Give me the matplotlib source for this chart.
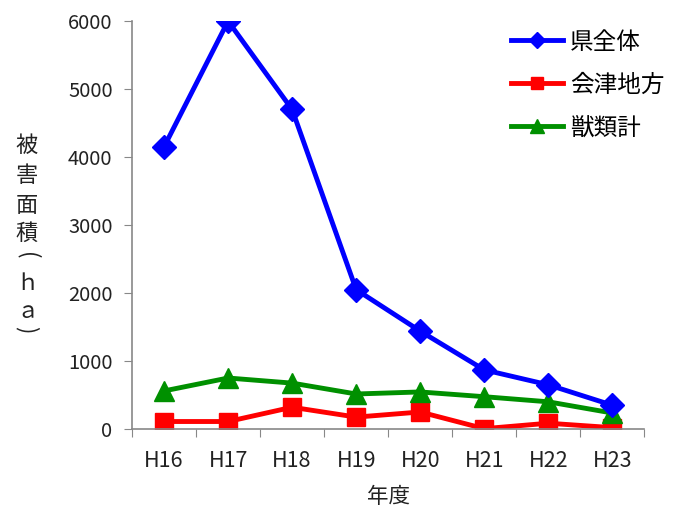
import numpy as np
import matplotlib.pyplot as plt
from matplotlib.ticker import FixedLocator, NullFormatter

plt.rcParams['font.family'] = ['Noto Sans CJK JP', 'DejaVu Sans']

years = ['H16', 'H17', 'H18', 'H19', 'H20', 'H21', 'H22', 'H23']
prefecture = [4150, 6000, 4700, 2050, 1440, 870, 650, 350]
aizu = [110, 110, 320, 175, 250, 5, 85, 20]
all_species = [560, 750, 675, 515, 545, 475, 400, 235]

W, H = 684, 515
fig = plt.figure(figsize=(W / 100, H / 100), dpi=100)
ax = fig.add_axes([0.193, 0.167, 0.749, 0.792])

x = np.arange(len(years))
ax.plot(x, prefecture, '-D', color='#0000ff', lw=3.5, ms=12, label='県全体', zorder=3)
ax.plot(x, aizu, '-s', color='#ff0000', lw=3.5, ms=13, label='会津地方', zorder=2)
ax.plot(x, all_species, '-^', color='#009000', lw=3.5, ms=15, label='獣類計', zorder=2)

ax.set_xlim(-0.5, len(years) - 0.5)
ax.set_ylim(0, 6000)
ax.set_yticks(range(0, 6001, 1000))

# category labels in the middle, tick marks between categories
ax.xaxis.set_major_locator(FixedLocator(np.arange(-0.5, len(years), 1.0)))
ax.xaxis.set_major_formatter(NullFormatter())
ax.xaxis.set_minor_locator(FixedLocator(x))
ax.set_xticklabels(years, minor=True)
ax.tick_params(axis='x', which='minor', length=0, labelsize=15.5, pad=15, labelcolor='#222222')
ax.tick_params(axis='x', which='major', length=6, color='#888888', direction='out')
ax.tick_params(axis='y', length=6, color='#888888', labelsize=14.5, pad=8, labelcolor='#222222')

for s in ['top', 'right']:
    ax.spines[s].set_visible(False)
for s in ['left', 'bottom']:
    ax.spines[s].set_color('#888888')
    ax.spines[s].set_linewidth(1.2)

ax.set_xlabel('年度', fontsize=15.5, color='#222222', labelpad=10)

# vertical y label: one character per row, brackets turned sideways
ylab_chars = ['被', '害', '面', '積', '(', 'ｈ', 'ａ', ')']
ylab_rows = [145, 175, 205, 233, 256, 283, 311, 330]
for ch, row in zip(ylab_chars, ylab_rows):
    rot = -90 if ch in '()' else 0
    fig.text(27 / W, 1 - row / H, ch, fontsize=16, color='#222222', ha='center',
             va='center', rotation=rot)

ax.legend(loc='upper right', bbox_to_anchor=(1.058, 1.0), frameon=False, fontsize=17,
          handlelength=2.2, labelspacing=0.85, handletextpad=0.3, borderaxespad=0.0,
          markerscale=0.7)

fig.savefig('out.png', dpi=100)
